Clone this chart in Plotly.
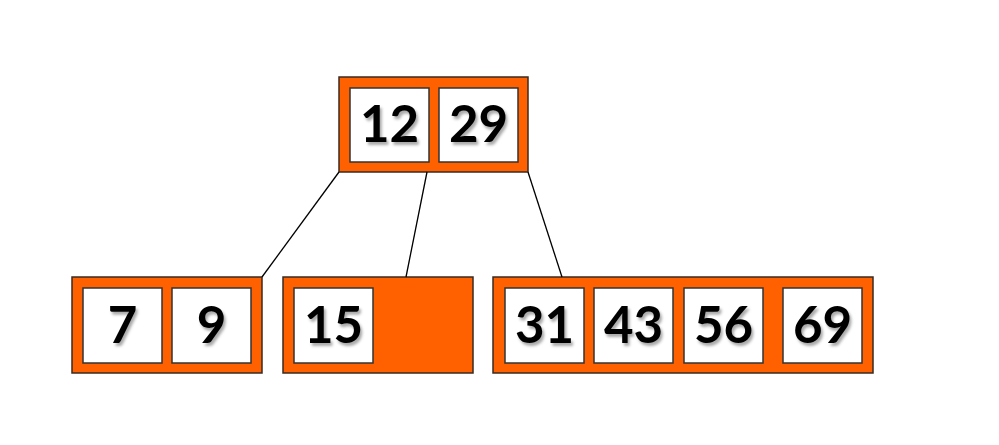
import plotly.graph_objects as go

# keys held by each node (None = empty slot)
root_keys = [12, 29]
leaf_keys = [[7, 9], [15, None], [31, 43, 56, 69]]

# diagram layout (pixel space, y grows downward)
root_box = (339, 528, 77, 172)
root_slots = [350, 439]
leaf_boxes = [(72, 262, 277, 373), (283, 473, 277, 373), (493, 873, 277, 373)]
leaf_slots = [[83, 172], [294, 383], [505, 594, 684, 783]]
slot_w = 79
slot_pad = 11
# where each child pointer leaves the root
edge_starts = [(339, 172), (427, 172), (528, 172)]
edge_ends = [(262, 277), (406, 277), (562, 277)]

ORANGE = '#FF6000'
PAGE_OFFSET = 8  # body margin of the html page

fig = go.Figure()


def add_node(box, slots, keys):
    x0, x1, y0, y1 = box
    fig.add_shape(type='rect', x0=x0, x1=x1, y0=y0, y1=y1,
                  fillcolor=ORANGE, line=dict(color='#3a2a20', width=1.5), layer='below')
    xs, ys, txt = [], [], []
    for sx, k in zip(slots, keys):
        if k is None:
            continue
        fig.add_shape(type='rect', x0=sx, x1=sx + slot_w, y0=y0 + slot_pad, y1=y1 - slot_pad + 1,
                      fillcolor='white', line=dict(color='#333333', width=1.5), layer='below')
        xs.append(sx + slot_w / 2)
        ys.append((y0 + y1) / 2 + 5)
        txt.append(str(k))
    fig.add_trace(go.Scatter(
        x=xs, y=ys, text=txt, mode='text',
        textfont=dict(family='Lato', size=51, color='black', weight='bold',
                      shadow='2px 3px 3px #aaaaaa'),
        hoverinfo='skip', showlegend=False
    ))


# edges first so boxes sit on top
for (sx, sy), (ex, ey) in zip(edge_starts, edge_ends):
    fig.add_trace(go.Scatter(x=[sx, ex], y=[sy, ey], mode='lines',
                             line=dict(color='black', width=1.3),
                             hoverinfo='skip', showlegend=False))

add_node(root_box, root_slots, root_keys)
for box, slots, keys in zip(leaf_boxes, leaf_slots, leaf_keys):
    add_node(box, slots, keys)

fig.update_layout(
    width=999, height=445,
    margin=dict(l=0, r=0, t=0, b=0),
    paper_bgcolor='white', plot_bgcolor='white',
    xaxis=dict(range=[PAGE_OFFSET, 999 + PAGE_OFFSET], visible=False, fixedrange=True),
    yaxis=dict(range=[445 + PAGE_OFFSET, PAGE_OFFSET], visible=False, fixedrange=True),
)

fig.write_html("out.html")
